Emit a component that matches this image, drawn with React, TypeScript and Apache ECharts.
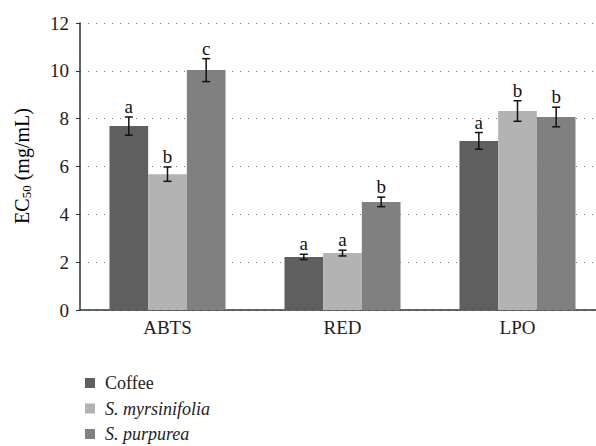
import React, { useEffect, useRef } from 'react';
import * as echarts from 'echarts';

const categories = ['ABTS', 'RED', 'LPO'];
const seriesNames = ['Coffee', 'S. myrsinifolia', 'S. purpurea'];
const coffeeValues = [7.69, 2.22, 7.07];
const myrsValues = [5.68, 2.38, 8.32];
const purpValues = [10.03, 4.52, 8.07];
const coffeeErr = [0.38, 0.11, 0.35];
const myrsErr = [0.3, 0.12, 0.43];
const purpErr = [0.48, 0.2, 0.41];
const coffeeLetters = ['a', 'a', 'a'];
const myrsLetters = ['b', 'a', 'b'];
const purpLetters = ['c', 'b', 'b'];
const yMin = 0;
const yMax = 12;
const yInterval = 2;

const colors = ['#5f5f5f', '#b3b3b3', '#808080'];
const FONT = "'Liberation Serif', 'DejaVu Serif', serif";
const GAP = 0.337;

export default function App() {
  const ref = useRef<HTMLDivElement>(null);
  useEffect(() => {
    if (!ref.current) return;
    const chart = echarts.init(ref.current, null, { renderer: 'svg' });
    const values = [coffeeValues, myrsValues, purpValues];
    const errs = [coffeeErr, myrsErr, purpErr];
    const letters = [coffeeLetters, myrsLetters, purpLetters];

    const errData: any[] = [];
    values.forEach((vals, s) => {
      vals.forEach((v, c) => {
        errData.push([c, s, v - errs[s][c], v + errs[s][c], letters[s][c]]);
      });
    });

    const barSeries = values.map((vals, s) => ({
      name: seriesNames[s],
      type: 'bar',
      data: vals,
      barGap: '0%',
      barCategoryGap: GAP * 100 + '%',
      itemStyle: { color: colors[s] },
      z: 2,
    }));

    chart.setOption({
      animation: false,
      grid: { left: 80, top: 23, height: 287, width: 525, containLabel: false, outerBoundsMode: 'none' },
      legend: {
        orient: 'vertical',
        left: 80,
        top: 369,
        height: 77,
        itemWidth: 10,
        itemHeight: 10,
        itemGap: 7.5,
        icon: 'rect',
        data: seriesNames,
        formatter: (name: string) => (name === 'Coffee' ? name : `{i|${name}}`),
        textStyle: {
          fontFamily: FONT,
          fontSize: 18,
          lineHeight: 18,
          color: '#222',
          padding: [0, 0, 0, 5],
          rich: { i: { fontFamily: FONT, fontSize: 18, lineHeight: 18, fontStyle: 'italic', color: '#222' } },
        },
      },
      xAxis: {
        type: 'category',
        data: categories,
        axisLine: { lineStyle: { color: '#333', width: 1.5 } },
        axisTick: { show: false },
        axisLabel: { fontFamily: FONT, fontSize: 19, color: '#222', margin: 8 },
      },
      yAxis: {
        type: 'value',
        min: yMin,
        max: yMax,
        interval: yInterval,
        axisLine: { show: true, lineStyle: { color: '#333', width: 1.5 } },
        axisTick: { show: true, length: 4, lineStyle: { color: '#333' } },
        axisLabel: { fontFamily: FONT, fontSize: 19, color: '#222', margin: 11 },
        splitLine: { show: true, lineStyle: { color: '#777', width: 1, type: [1, 7] } },
      },
      graphic: [
        {
          type: 'text',
          x: 22,
          y: 166,
          rotation: Math.PI / 2,
          style: {
            text: '{n|EC}{s|50}{n| (mg/mL)}',
            align: 'center',
            verticalAlign: 'middle',
            rich: {
              n: { fontFamily: FONT, fontSize: 20, color: '#222' },
              s: { fontFamily: FONT, fontSize: 13, color: '#222', padding: [9, 0, 0, 0] },
            },
          },
        },
      ],
      series: [
        ...barSeries,
        {
          type: 'custom',
          name: 'err',
          data: errData,
          encode: { x: 0, y: [2, 3] },
          z: 5,
          renderItem: (params: any, api: any) => {
            const c = api.value(0);
            const s = api.value(1);
            const lo = api.coord([c, api.value(2)]);
            const hi = api.coord([c, api.value(3)]);
            const band = api.size([1, 0])[0];
            const bw = (band * (1 - GAP)) / 3;
            const x = lo[0] + (s - 1) * bw;
            const cap = 4;
            const st = { stroke: '#111', lineWidth: 1.5 };
            return {
              type: 'group',
              children: [
                { type: 'line', shape: { x1: x, y1: lo[1], x2: x, y2: hi[1] }, style: st },
                { type: 'line', shape: { x1: x - cap, y1: lo[1], x2: x + cap, y2: lo[1] }, style: st },
                { type: 'line', shape: { x1: x - cap, y1: hi[1], x2: x + cap, y2: hi[1] }, style: st },
                {
                  type: 'text',
                  x: x,
                  y: hi[1] - 1,
                  style: {
                    text: api.value(4),
                    align: 'center',
                    verticalAlign: 'bottom',
                    fontFamily: FONT,
                    fontSize: 19,
                    fill: '#111',
                  },
                },
              ],
            };
          },
        },
      ],
    });
    return () => chart.dispose();
  }, []);
  return <div ref={ref} style={{ width: 596, height: 446, position: 'absolute', left: 0, top: 0 }} />;
}
